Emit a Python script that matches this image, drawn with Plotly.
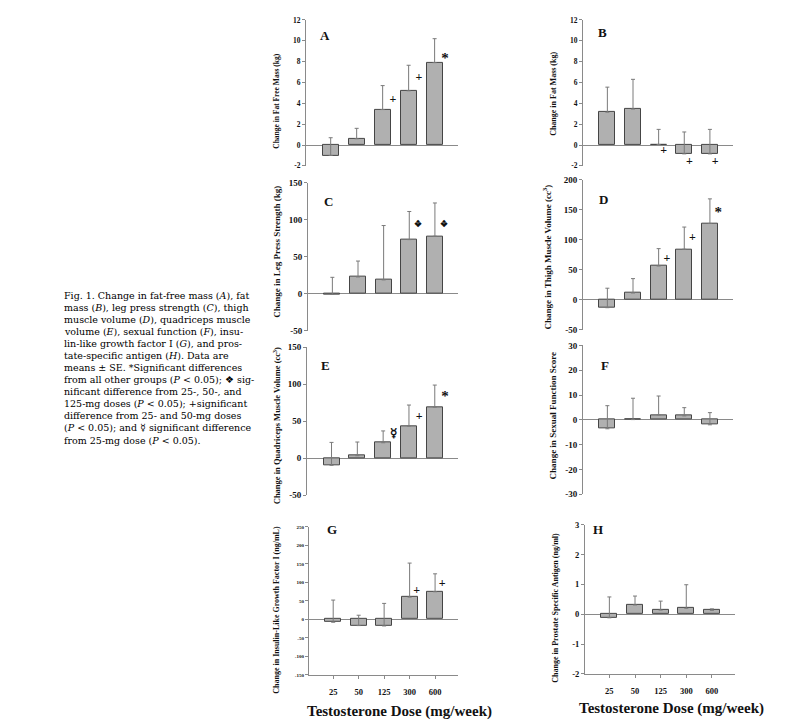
import plotly.graph_objects as go

# ---------------- data ----------------
doses = ["25", "50", "125", "300", "600"]

ffm_mean = [-1.0, 0.6, 3.4, 5.2, 7.9]          # A fat-free mass (kg)
ffm_se = [1.7, 1.0, 2.3, 2.45, 2.3]
ffm_sig = ["", "", "+", "+", "*"]
ffm_sig_y = [None, None, 4.3, 6.4, 8.2]

fat_mean = [3.15, 3.45, 0.05, -0.85, -0.85]     # B fat mass (kg)
fat_se = [2.4, 2.85, 1.45, 2.1, 2.35]
fat_sig = ["", "", "+", "+", "+"]
fat_sig_y = [None, None, -0.6, -1.6, -1.6]

leg_mean = [-1.0, 22.5, 18.5, 73.0, 77.5]       # C leg press strength (kg)
leg_se = [23.0, 21.5, 73.5, 38.0, 45.0]
leg_sig = ["", "", "", "❖", "❖"]
leg_sig_y = [None, None, None, 93.5, 93.5]

thigh_mean = [-13.5, 11.0, 56.0, 84.0, 127.0]   # D thigh muscle volume (cc3)
thigh_se = [32.5, 24.0, 29.0, 37.0, 41.0]
thigh_sig = ["", "", "+", "+", "*"]
thigh_sig_y = [None, None, 67.0, 103.5, 144.0]

quad_mean = [-9.5, 3.5, 21.0, 43.5, 69.0]       # E quadriceps muscle volume (cc3)
quad_se = [31.0, 18.5, 16.0, 28.5, 30.0]
quad_sig = ["", "", "☿", "+", "*"]
quad_sig_y = [None, None, 33.0, 55.5, 82.0]

sex_mean = [-3.6, 0.1, 2.0, 1.6, -2.0]          # F sexual function score
sex_se = [9.3, 8.6, 7.6, 3.3, 4.9]

igf_mean = [-8.0, -17.0, -18.0, 60.0, 74.5]     # G IGF-I (ng/mL)
igf_se = [60.0, 28.0, 61.0, 92.0, 48.5]
igf_sig = ["", "", "", "+", "+"]
igf_sig_y = [None, None, None, 76.0, 95.0]

psa_mean = [-0.12, 0.31, 0.14, 0.2, 0.13]       # H PSA (ng/ml)
psa_se = [0.7, 0.3, 0.3, 0.79, 0.05]

ticks_A = [-2, 0, 2, 4, 6, 8, 10, 12]
ticks_C = [-50, 0, 50, 100, 150]
ticks_D = [-50, 0, 50, 100, 150, 200]
ticks_F = [-30, -20, -10, 0, 10, 20, 30]
ticks_G = [-150, -100, -50, 0, 50, 100, 150, 200, 250]
ticks_H = [-2, -1, 0, 1, 2, 3]

caption_lines = [
    "Fig. 1. Change in fat-free mass (<i>A</i>), fat",
    "mass (<i>B</i>), leg press strength (<i>C</i>), thigh",
    "muscle volume (<i>D</i>), quadriceps muscle",
    "volume (<i>E</i>), sexual function (<i>F</i>), insu-",
    "lin-like growth factor I (<i>G</i>), and pros-",
    "tate-specific antigen (<i>H</i>). Data are",
    "means ± SE. *Significant differences",
    "from all other groups (<i>P</i> &lt; 0.05); ❖ sig-",
    "nificant difference from 25-, 50-, and",
    "125-mg doses (<i>P</i> &lt; 0.05); +significant",
    "difference from 25- and 50-mg doses",
    "(<i>P</i> &lt; 0.05); and ☿ significant difference",
    "from 25-mg dose (<i>P</i> &lt; 0.05).",
]
x_title = "Testosterone Dose (mg/week)"

# ---------------- layout helpers ----------------
W, H = 800, 728
OFF = 8  # the page body has a default 8px margin; compensate so pixels line up
SERIF = "Liberation Serif, Times New Roman, serif"


def px(x):
    return (x - OFF) / W


def py(y):
    return 1 - (y - OFF) / H


def dx(a, b):
    return [px(a), px(b)]


def dy(top, bottom):
    return [py(bottom), py(top)]


def tick_text(vals):
    return [str(v) for v in vals]  # hyphen minus like the original


panels = [
    dict(L="A", t="Change in Fat Free Mass (kg)", m=ffm_mean, e=ffm_se, s=ffm_sig, sy=ffm_sig_y,
         tk=ticks_A, xp=(306, 458), yp=(15, 163), lp=(325, 31), tx=277, ty=97, tf=7.5, ttf=7.5, sdx=0.4),
    dict(L="B", t="Change in Fat Mass (kg)", m=fat_mean, e=fat_se, s=fat_sig, sy=fat_sig_y,
         tk=ticks_A, xp=(583, 733), yp=(15, 163), lp=(602, 28), tx=554, ty=90, tf=7.5, ttf=8, sdx=0.2),
    dict(L="C", t="Change in Leg Press Strength (kg)", m=leg_mean, e=leg_se, s=leg_sig, sy=leg_sig_y,
         tk=ticks_C, xp=(308, 458), yp=(180, 330), lp=(328, 199), tx=277, ty=250, tf=9, ttf=9, sdx=0.35),
    dict(L="D", t="Change in Thigh Muscle Volume (cc<sup>3</sup>)", m=thigh_mean, e=thigh_se, s=thigh_sig,
         sy=thigh_sig_y, tk=ticks_D, xp=(583, 733), yp=(177, 329), lp=(603, 197), tx=547, ty=256, tf=9,
         ttf=9, sdx=0.32),
    dict(L="E", t="Change in Quadriceps Muscle Volume (cc<sup>3</sup>)", m=quad_mean, e=quad_se, s=quad_sig,
         sy=quad_sig_y, tk=ticks_C, xp=(307, 458), yp=(347, 497), lp=(325, 365), tx=277, ty=427, tf=9,
         ttf=8.5, sdx=0.4),
    dict(L="F", t="Change in Sexual Function Score", m=sex_mean, e=sex_se, s=None, sy=None,
         tk=ticks_F, xp=(583, 733), yp=(345, 496), lp=(605, 365), tx=553, ty=417, tf=9, ttf=9, sdx=0.3),
    dict(L="G", t="Change in Insulin-Like Growth Factor I (ng/mL)", m=igf_mean, e=igf_se, s=igf_sig,
         sy=igf_sig_y, tk=ticks_G, xp=(309, 458), yp=(529, 679), lp=(332, 532), tx=277, ty=613, tf=5,
         ttf=8, sdx=0.28),
    dict(L="H", t="Change in Prostate Specific Antigen (ng/ml)", m=psa_mean, e=psa_se, s=None, sy=None,
         tk=ticks_H, xp=(585, 735), yp=(527, 678), lp=(598, 532), tx=556, ty=611, tf=8.5, ttf=8, sdx=0.3),
]

fig = go.Figure()
layout = dict(
    width=W, height=H, margin=dict(l=0, r=0, t=0, b=0),
    paper_bgcolor="white", plot_bgcolor="white", showlegend=False,
    annotations=[], bargap=0,
)

AXC = "#8a8a8a"
xs = list(range(len(doses)))
for k, p in enumerate(panels, start=1):
    xa = "x" if k == 1 else f"x{k}"
    ya = "y" if k == 1 else f"y{k}"
    fig.add_trace(go.Bar(
        x=xs, y=p["m"], width=0.62, xaxis=xa, yaxis=ya,
        marker=dict(color="#b0b0b0", line=dict(color="#454545", width=1)),
        error_y=dict(type="data", symmetric=False, array=p["e"], arrayminus=[0] * len(xs),
                     color="#7a7a7a", thickness=1, width=2),
        hoverinfo="skip",
    ))
    if p["s"]:
        sx = [i + p["sdx"] for i, s in enumerate(p["s"]) if s]
        syv = [p["sy"][i] for i, s in enumerate(p["s"]) if s]
        st = [s for s in p["s"] if s]
        sizes = [15 if s == "*" else (9 if s == "❖" else 12) for s in st]
        fig.add_trace(go.Scatter(
            x=sx, y=syv, text=st, mode="text", xaxis=xa, yaxis=ya,
            textfont=dict(family=SERIF, size=sizes, color="#111", weight="bold"), hoverinfo="skip",
        ))
    bottom = p["L"] in ("G", "H")
    layout["xaxis" if k == 1 else f"xaxis{k}"] = dict(
        domain=dx(*p["xp"]), anchor=ya, range=[-0.95, 4.9],
        showline=bottom, linecolor=AXC, linewidth=1,
        showgrid=False, zeroline=False,
        ticks="outside" if bottom else "", ticklen=3, tickcolor=AXC,
        tickvals=xs, ticktext=doses, showticklabels=bottom, ticklabelstandoff=6,
        tickfont=dict(family=SERIF, size=8.5, color="#111", weight="bold"),
    )
    layout["yaxis" if k == 1 else f"yaxis{k}"] = dict(
        domain=dy(*p["yp"]), anchor=xa, range=[p["tk"][0], p["tk"][-1]],
        showline=True, linecolor=AXC, linewidth=1, showgrid=False,
        zeroline=True, zerolinecolor=AXC, zerolinewidth=1,
        ticks="outside", ticklen=3, tickcolor=AXC,
        tickvals=p["tk"], ticktext=tick_text(p["tk"]),
        tickfont=dict(family=SERIF, size=p["tf"], color="#111", weight="bold"),
    )
    layout["annotations"].append(dict(
        text=f"<b>{p['L']}</b>", xref="paper", yref="paper", x=px(p["lp"][0]), y=py(p["lp"][1]),
        showarrow=False, xanchor="center", yanchor="middle",
        font=dict(family=SERIF, size=13, color="#111"),
    ))
    layout["annotations"].append(dict(
        text=f"<b>{p['t']}</b>", xref="paper", yref="paper", x=px(p["tx"]), y=py(p["ty"]),
        showarrow=False, xanchor="center", yanchor="middle", textangle=-90,
        font=dict(family=SERIF, size=p["ttf"], color="#111"),
    ))

for cx, cy in ((399, 716), (671, 713)):
    layout["annotations"].append(dict(
        text=f"<b>{x_title}</b>", xref="paper", yref="paper", x=px(cx), y=py(cy),
        showarrow=False, xanchor="center", yanchor="middle",
        font=dict(family=SERIF, size=15, color="#111"),
    ))

for i, line in enumerate(caption_lines):
    layout["annotations"].append(dict(
        text=line, xref="paper", yref="paper", x=px(62), y=py(294 + i * 12.25),
        showarrow=False, xanchor="left", yanchor="middle",
        font=dict(family="DejaVu Serif, serif", size=9.5, color="#000"),
    ))

fig.update_layout(**layout)
fig.write_html("out.html")
